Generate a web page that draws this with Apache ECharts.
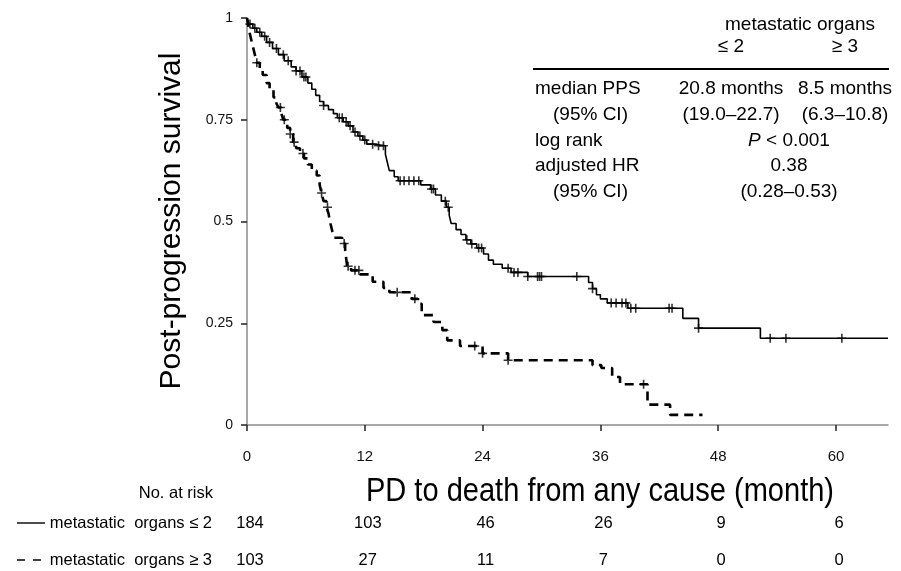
<!DOCTYPE html>
<html><head><meta charset="utf-8">
<script src="https://cdn.jsdelivr.net/npm/echarts@6/dist/echarts.min.js"></script>
<style>html,body{margin:0;padding:0;background:#fff}#c{width:901px;height:571px}</style>
</head><body><div id="c"></div>
<script>
// ---- data ----
const solidT = [0,0.2,0.6,1.0,1.5,2.0,2.6,3.2,3.8,4.5,5.0,5.6,6.2,6.6,7.0,7.4,7.8,8.3,8.8,9.2,9.8,10.3,10.8,11.3,11.8,12.2,13.0,14.1,14.3,14.5,15.0,15.4,17.7,18.7,19.2,19.8,20.3,20.6,20.8,21.3,21.8,22.3,22.8,23.4,24.1,24.6,25.1,26.0,26.9,28.6,34.8,35.2,35.6,36.0,36.7,38.8,44.4,46.0,52.3,65.3];
const solidS = [1,0.985,0.975,0.965,0.955,0.94,0.925,0.91,0.895,0.88,0.87,0.855,0.84,0.825,0.81,0.795,0.785,0.775,0.765,0.755,0.745,0.735,0.72,0.71,0.70,0.69,0.686,0.665,0.645,0.625,0.61,0.60,0.59,0.58,0.565,0.55,0.535,0.515,0.495,0.48,0.468,0.455,0.445,0.435,0.42,0.405,0.395,0.385,0.375,0.365,0.35,0.335,0.32,0.31,0.30,0.287,0.262,0.238,0.213,0.213];
const dashT = [0,0.2,0.4,0.6,0.8,1.0,1.3,1.6,2.0,2.3,2.7,3.0,3.2,3.5,3.7,4.1,4.4,4.7,5.0,5.4,5.8,6.2,6.6,7.1,7.4,7.6,7.8,8.1,8.3,8.5,8.7,8.9,9.7,10.0,10.1,10.2,10.6,11.5,12.8,13.9,14.5,16.8,17.4,17.8,19.0,19.9,20.4,21.7,24.0,26.6,35.2,36.1,37.2,38.0,40.8,43.1,46.4];
const dashS = [1,0.97,0.95,0.93,0.91,0.89,0.875,0.86,0.84,0.825,0.805,0.79,0.78,0.765,0.75,0.73,0.715,0.695,0.68,0.667,0.655,0.64,0.625,0.613,0.59,0.57,0.55,0.535,0.52,0.495,0.475,0.46,0.446,0.43,0.41,0.39,0.38,0.37,0.352,0.337,0.326,0.31,0.298,0.27,0.253,0.233,0.208,0.194,0.176,0.159,0.147,0.14,0.118,0.10,0.05,0.025,0.025];
const solidCens = [0.3,0.8,1.3,1.8,2.3,3.0,3.7,4.2,5.0,5.4,5.8,6.0,7.8,9.4,9.7,10.1,10.5,11.0,11.5,12.0,12.8,13.4,13.9,15.6,16.0,16.5,17.0,17.5,18.8,19.0,20.2,20.5,22.4,22.9,23.6,23.9,26.6,27.2,27.6,28.6,29.6,29.8,30.0,33.6,35.2,37.1,37.6,38.2,38.6,39.1,39.6,43.0,43.3,46.0,53.3,54.9,60.6];
const dashCens = [1.0,3.4,3.8,4.4,4.8,5.7,7.6,8.2,9.9,10.3,11.0,11.4,15.3,17.1,23.2,24.0,26.6,40.4];
const xTicks = [0,12,24,36,48,60];
const yTicks = [0,0.25,0.5,0.75,1];
const riskTimes = [0,12,24,36,48,60];
const risk1 = [184,103,46,26,9,6];
const risk2 = [103,27,11,7,0,0];
const groupLabels = ['metastatic  organs \u2264 2','metastatic  organs \u2265 3'];
const statRows = ['median PPS','(95% CI)','log rank','adjusted HR','(95% CI)'];
const col1 = ['20.8 months','(19.0\u201322.7)'];
const col2 = ['8.5 months','(6.3\u201310.8)'];
const pooled = ['{i|P} < 0.001','0.38','(0.28\u20130.53)'];

const FF = "'Liberation Sans', Arial, sans-serif";
const chart = echarts.init(document.getElementById('c'));
function stepVal(T, S, c){ let v = S[0]; for (let i = 0; i < T.length; i++) { if (T[i] <= c) v = S[i]; } return v; }
const plusPath = 'path://M4.1,0H5.9V4.1H10V5.9H5.9V10H4.1V5.9H0V4.1H4.1Z';

chart.setOption({
  animation: false,
  backgroundColor: '#fff',
  grid: { left: 247, top: 18, right: 13, bottom: 146 },
  xAxis: {
    type: 'value', min: 0, max: 65.3, interval: 12,
    axisLine: { lineStyle: { color: '#8a8a8a', width: 1.5 } },
    axisTick: { customValues: xTicks, length: 6, lineStyle: { color: '#222', width: 1.5 } },
    axisLabel: { customValues: xTicks, margin: 24, fontSize: 15, color: '#111', fontFamily: "'Liberation Sans Narrow', " + FF },
    splitLine: { show: false }
  },
  yAxis: {
    type: 'value', min: 0, max: 1, interval: 0.25,
    axisLine: { show: true, lineStyle: { color: '#8a8a8a', width: 1.5 } },
    axisTick: { show: true, customValues: yTicks, length: 6, lineStyle: { color: '#222', width: 1.5 } },
    axisLabel: { customValues: yTicks, margin: 14, fontSize: 14, color: '#111', fontFamily: FF },
    splitLine: { show: false }
  },
  series: [
    { type: 'line', step: 'end', symbol: 'none', data: solidT.map((t, i) => [t, solidS[i]]),
      lineStyle: { color: '#000', width: 1.6 }, z: 3 },
    { type: 'line', step: 'end', symbol: 'none', data: dashT.map((t, i) => [t, dashS[i]]),
      lineStyle: { color: '#000', width: 2.6, type: [9, 6] }, z: 3 },
    { type: 'scatter', symbol: plusPath, symbolSize: 9, itemStyle: { color: '#000' },
      data: solidCens.map(c => [c, stepVal(solidT, solidS, c)]), z: 4 },
    { type: 'scatter', symbol: plusPath, symbolSize: 9, itemStyle: { color: '#000' },
      data: dashCens.map(c => [c, stepVal(dashT, dashS, c)]), z: 4 }
  ]
});

const g = [];
const txt = (x, y, text, opt) => Object.assign({ type: 'text', x: x, y: y,
  style: Object.assign({ text: text, fontFamily: FF, fill: '#000', verticalAlign: 'middle' }, opt || {}) });
// axis titles
g.push(Object.assign(txt(172, 221, 'Post-progression survival', { fontSize: 30, align: 'center' }), { rotation: Math.PI / 2 }));
g.push(Object.assign(txt(600, 492, 'PD to death from any cause (month)', { fontSize: 33, align: 'center' }), { scaleX: 0.88 }));
// number at risk table
g.push(txt(213, 493, 'No. at risk', { fontSize: 16.5, align: 'right' }));
const rowY = [523, 560];
g.push(txt(212, rowY[0], groupLabels[0], { fontSize: 16.5, align: 'right' }));
g.push(txt(212, rowY[1], groupLabels[1], { fontSize: 16.5, align: 'right' }));
g.push({ type: 'line', shape: { x1: 17, y1: rowY[0], x2: 45, y2: rowY[0] }, style: { stroke: '#000', lineWidth: 1.4 } });
g.push({ type: 'line', shape: { x1: 17, y1: rowY[1], x2: 45, y2: rowY[1] }, style: { stroke: '#000', lineWidth: 1.6, lineDash: [8, 8] } });
riskTimes.forEach((t, i) => {
  const px = chart.convertToPixel({ xAxisIndex: 0 }, t) + 3;
  g.push(txt(px, rowY[0], String(risk1[i]), { fontSize: 16.5, align: 'center' }));
  g.push(txt(px, rowY[1], String(risk2[i]), { fontSize: 16.5, align: 'center' }));
});
// statistics table
const c1 = 731, c2 = 845, cm = 789;
g.push(txt(800, 25, 'metastatic organs', { fontSize: 19, align: 'center' }));
g.push(txt(c1, 47, '\u2264 2', { fontSize: 19, align: 'center' }));
g.push(txt(c2, 47, '\u2265 3', { fontSize: 19, align: 'center' }));
g.push({ type: 'line', shape: { x1: 533, y1: 69, x2: 889, y2: 69 }, style: { stroke: '#000', lineWidth: 2 } });
const rowYs = [89, 115, 141, 166, 192];
const rowX = [535, 553, 535, 535, 553];
statRows.forEach((s, i) => g.push(txt(rowX[i], rowYs[i], s, { fontSize: 19, align: 'left' })));
col1.forEach((s, i) => g.push(txt(c1, rowYs[i], s, { fontSize: 19, align: 'center' })));
col2.forEach((s, i) => g.push(txt(c2, rowYs[i], s, { fontSize: 19, align: 'center' })));
pooled.forEach((s, i) => g.push(txt(cm, rowYs[i + 2], s, { fontSize: 19, align: 'center',
  rich: { i: { fontStyle: 'italic', fontSize: 19, fontFamily: FF } } })));
chart.setOption({ graphic: { elements: g } });
</script>
</body></html>
